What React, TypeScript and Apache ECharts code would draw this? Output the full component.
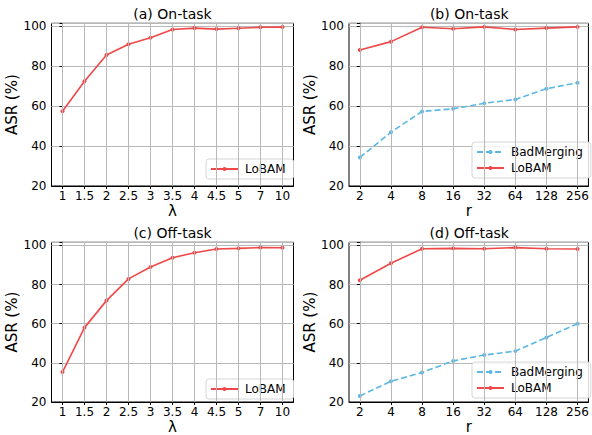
import React, { useEffect, useRef } from "react";
import * as echarts from "echarts";

const lambdaLabels = ["1", "1.5", "2", "2.5", "3", "3.5", "4", "4.5", "5", "7", "10"];
const rLabels = ["2", "4", "8", "16", "32", "64", "128", "256"];

const onTaskLambdaLoBAM = [57.5, 72.5, 85.7, 91.1, 94.4, 98.5, 99.2, 98.7, 99.1, 99.6, 99.7];
const offTaskLambdaLoBAM = [35.3, 58.0, 71.8, 82.9, 89.0, 93.7, 96.3, 98.2, 98.5, 98.9, 98.8];

const onTaskRLoBAM = [88.2, 92.4, 99.6, 98.9, 99.8, 98.5, 99.2, 99.8];
const onTaskRBadMerging = [34.3, 47.0, 57.4, 58.7, 61.5, 63.4, 68.8, 71.8];
const offTaskRLoBAM = [82.2, 90.9, 98.3, 98.5, 98.3, 98.9, 98.3, 98.2];
const offTaskRBadMerging = [23.1, 30.6, 35.1, 41.0, 44.0, 46.0, 53.0, 60.0];

const titles = ["(a) On-task", "(b) On-task", "(c) Off-task", "(d) Off-task"];

const RED = "#f04848";
const BLUE = "#5bb8e6";
const FONT = "DejaVu Sans";

export default function App() {
  const ref = useRef<HTMLDivElement>(null);

  useEffect(() => {
    if (!ref.current) return;
    const chart = echarts.init(ref.current, undefined, { renderer: "svg" });

    const grids = [
      { left: 51.5, top: 23.3, width: 242, height: 162.7 },
      { left: 349, top: 23.3, width: 240.5, height: 162.7 },
      { left: 51.5, top: 242.3, width: 242, height: 164.2 },
      { left: 349, top: 242.3, width: 240.5, height: 164.2 },
    ];
    const cats = [lambdaLabels, rLabels, lambdaLabels, rLabels];
    const xNames = ["λ", "r", "λ", "r"];

    const xAxes = cats.map((c, i) => {
      const n = c.length;
      const pad = 0.05 * (n - 1);
      const idx = c.map((_, k) => k);
      return {
        type: "value",
        gridIndex: i,
        min: -pad,
        max: n - 1 + pad,
        name: xNames[i],
        nameLocation: "middle",
        nameGap: 17,
        nameTextStyle: { fontFamily: FONT, fontSize: 15, color: "#000" },
        axisLine: { show: true, lineStyle: { color: "#000", width: 1 } },
        axisTick: { show: true, length: 3, customValues: idx, lineStyle: { color: "#000" } },
        axisLabel: {
          customValues: idx,
          margin: 4,
          fontFamily: FONT,
          fontSize: 12,
          color: "#000",
          formatter: (v: number) => c[Math.round(v)] ?? "",
        },
        splitLine: { show: false },
      };
    });

    const yAxes = cats.map((_, i) => ({
      type: "value",
      gridIndex: i,
      min: 20,
      max: 101.6,
      interval: 20,
      name: "ASR (%)",
      nameLocation: "middle",
      nameGap: 26,
      nameTextStyle: { fontFamily: FONT, fontSize: 15, color: "#000" },
      axisLine: { show: true, lineStyle: { color: "#000", width: 1 } },
      axisTick: { show: true, length: 3, lineStyle: { color: "#000" } },
      axisLabel: {
        margin: 5,
        fontFamily: FONT,
        fontSize: 12,
        color: "#000",
        formatter: (v: number) => (Math.abs(v % 20) < 1e-6 ? String(v) : ""),
      },
      splitLine: { show: true, lineStyle: { color: "#b8b8b8", width: 1 } },
    }));

    const gridHelpers = cats.map((c, i) => ({
      type: "line",
      name: "_grid" + i,
      xAxisIndex: i,
      yAxisIndex: i,
      data: [],
      z: 1,
      silent: true,
      markLine: {
        silent: true,
        symbol: ["none", "none"],
        label: { show: false },
        lineStyle: { color: "#b8b8b8", type: "solid", width: 1 },
        emphasis: { disabled: true },
        data: c.map((_, k) => ({ xAxis: k })),
      },
    }));

    const mk = (name: string, data: number[], i: number, color: string, dashed: boolean) => ({
      type: "line",
      name,
      xAxisIndex: i,
      yAxisIndex: i,
      data: data.map((v, k) => [k, v]),
      z: 3,
      symbol: "circle",
      symbolSize: 4,
      showSymbol: true,
      itemStyle: { color },
      lineStyle: { color, width: 1.6, type: dashed ? [6, 3] : "solid" },
    });

    const series = [
      ...gridHelpers,
      mk("LoBAM", onTaskLambdaLoBAM, 0, RED, false),
      mk("BadMerging", onTaskRBadMerging, 1, BLUE, true),
      mk("LoBAM", onTaskRLoBAM, 1, RED, false),
      mk("LoBAM", offTaskLambdaLoBAM, 2, RED, false),
      mk("BadMerging", offTaskRBadMerging, 3, BLUE, true),
      mk("LoBAM", offTaskRLoBAM, 3, RED, false),
    ];

    const legendBase = {
      orient: "vertical",
      itemWidth: 27,
      itemHeight: 5,
      itemGap: 4,
      padding: [4, 8, 4, 4],
      borderColor: "#d6d6d6",
      borderWidth: 1,
      borderRadius: 3,
      backgroundColor: "rgba(255,255,255,0.85)",
      selectedMode: false,
      textStyle: { fontFamily: FONT, fontSize: 12, color: "#000", padding: [0, 0, 0, 2] },
    };

    const legends = [
      { ...legendBase, data: ["LoBAM"], left: 206, top: 159 },
      { ...legendBase, data: ["BadMerging", "LoBAM"], left: 472, top: 142 },
      { ...legendBase, data: ["LoBAM"], left: 206, top: 379 },
      { ...legendBase, data: ["BadMerging", "LoBAM"], left: 472, top: 362 },
    ];

    const titleCfg = titles.map((t, i) => ({
      text: t,
      left: grids[i].left + grids[i].width / 2,
      top: grids[i].top - 16,
      textAlign: "center",
      padding: 0,
      textStyle: { fontFamily: FONT, fontSize: 14, fontWeight: "normal", color: "#000" },
    }));

    chart.setOption({
      animation: false,
      backgroundColor: "#fff",
      textStyle: { fontFamily: FONT },
      title: titleCfg,
      legend: legends,
      grid: grids.map((g) => ({ ...g, show: true, borderColor: "#000", borderWidth: 1, containLabel: false })),
      xAxis: xAxes,
      yAxis: yAxes,
      series,
    });

    return () => chart.dispose();
  }, []);

  return (
    <div
      ref={ref}
      style={{ position: "fixed", left: 0, top: 0, width: 592, height: 435 }}
    />
  );
}
